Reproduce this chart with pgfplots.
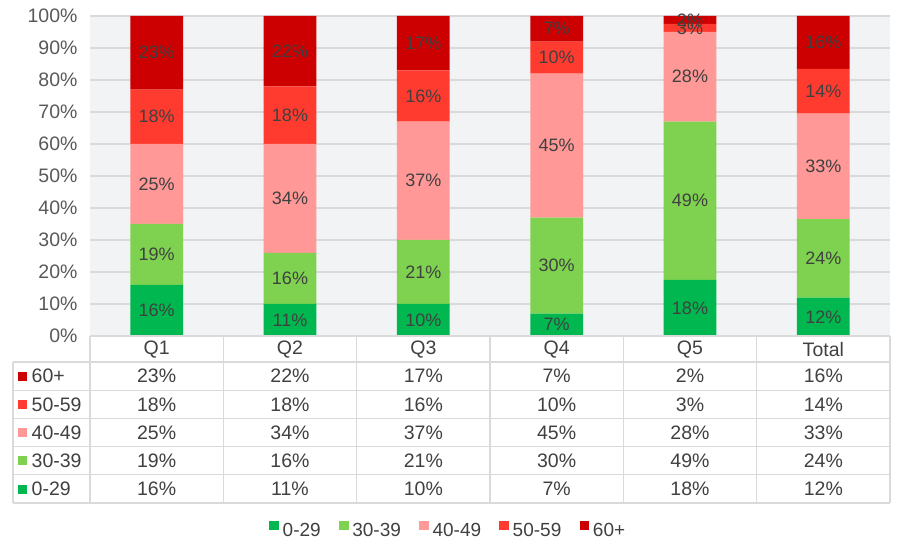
\documentclass[border=0pt]{standalone}
\usepackage{pgfplots}
\pgfplotsset{compat=1.18}
\usepackage{pgfplotstable}
\usepackage{fontspec}
\setmainfont{Liberation Sans}
\definecolor{cA}{HTML}{00B84F}
\definecolor{cB}{HTML}{7ED24F}
\definecolor{cC}{HTML}{FF9896}
\definecolor{cD}{HTML}{FF3B30}
\definecolor{cE}{HTML}{CC0000}
\definecolor{bg}{HTML}{F2F3F4}
\definecolor{gridc}{HTML}{DADADA}
\definecolor{txt}{HTML}{404040}
\definecolor{tickc}{HTML}{595959}

\pgfplotstableread{
x cat a b c d e la lb lc ld le
0 Q1 16 19 25 17 23 16 19 25 18 23
1 Q2 10 16 34 18 22 11 16 34 18 22
2 Q3 10 20 37 16 17 10 21 37 16 17
3 Q4 7 30 45 10 8 7 30 45 10 7
4 Q5 17.5 49.5 28 2.5 2.5 18 49 28 3 2
5 Total 12 24.5 33 14 16.5 12 24 33 14 16
}\data

\pgfplotsset{sqleg/.style={legend image code/.code={\fill[##1] (0pt,0pt) rectangle (9.5pt,9.5pt);}}}

\begin{document}
\begin{tikzpicture}
\path[use as bounding box] (-90pt,-217pt) rectangle (810pt,336pt);
\begin{axis}[
  at={(0pt,0pt)}, anchor=south west,
  scale only axis, width=800pt, height=320pt,
  ybar stacked, bar width=52.7pt,
  xmin=-0.5, xmax=5.5, ymin=0, ymax=100,
  clip=false,
  xtick=\empty,
  ytick={0,10,...,100},
  yticklabels={0\%,10\%,20\%,30\%,40\%,50\%,60\%,70\%,80\%,90\%,100\%},
  yticklabel style={font=\fontsize{19.5}{21}\selectfont, text=tickc, xshift=-9pt},
  major tick length=0pt,
  ymajorgrids, grid style={gridc, line width=1.3pt},
  axis line style={draw=none},
  axis background/.style={fill=bg},
  nodes near coords={\pgfplotspointmeta\%},
  nodes near coords align={center},
  every node near coord/.append style={anchor=center, font=\fontsize{18}{20}\selectfont, text=txt},
  legend columns=-1,
  legend style={draw=none, fill=none, at={(0.449,-0.606)}, anchor=center,
    font=\fontsize{19}{21}\selectfont, text=txt,
    nodes={inner xsep=3.8pt, inner ysep=1.5pt},
    /tikz/every even column/.append style={column sep=14.5pt}},
]
\addplot[fill=cA, draw=none, sqleg, point meta=explicit symbolic] table[x=x, y=a, meta=la] {\data};
\addplot[fill=cB, draw=none, sqleg, point meta=explicit symbolic] table[x=x, y=b, meta=lb] {\data};
\addplot[fill=cC, draw=none, sqleg, point meta=explicit symbolic] table[x=x, y=c, meta=lc] {\data};
\addplot[fill=cD, draw=none, sqleg, point meta=explicit symbolic] table[x=x, y=d, meta=ld] {\data};
\addplot[fill=cE, draw=none, sqleg, point meta=explicit symbolic] table[x=x, y=e, meta=le] {\data};
\legend{0-29,30-39,40-49,50-59,60+}
\end{axis}
% data table
\draw[gridc, line width=1.3pt] (0pt,0pt) -- (800pt,0pt);
\foreach \yy in {-26,-54.2,-82.4,-110.6,-138.8,-167}
  \draw[gridc, line width=1.3pt] (-77pt,\yy pt) -- (800pt,\yy pt);
\draw[gridc, line width=1.3pt] (-77pt,-26pt) -- (-77pt,-167pt);
\foreach \i in {0,...,6}
  \draw[gridc, line width=1.3pt] ({133.333pt*\i},0pt) -- ({133.333pt*\i},-167pt);
\foreach \i in {0,...,5}{
  \pgfplotstablegetelem{\i}{cat}\of\data
  \node[font=\fontsize{19.5}{21}\selectfont, text=txt] at ({66.667pt+133.333pt*\i},-13.3pt) {\pgfplotsretval};
}
\foreach \col/\row/\clr/\name in {le/0/cE/60+, ld/1/cD/50-59, lc/2/cC/40-49, lb/3/cB/30-39, la/4/cA/0-29}{
  \pgfmathsetmacro\yc{-40.1-28.2*\row}
  \fill[\clr] (-72pt,{(\yc-4.8)*1pt}) rectangle (-62.5pt,{(\yc+4.2)*1pt});
  \node[anchor=west, inner sep=0pt, font=\fontsize{19.5}{21}\selectfont, text=txt] at (-58.5pt,\yc pt) {\name};
  \foreach \i in {0,...,5}{
    \pgfplotstablegetelem{\i}{\col}\of\data
    \node[font=\fontsize{19.5}{21}\selectfont, text=txt] at ({66.667pt+133.333pt*\i},\yc pt) {\pgfplotsretval\%};
  }
}
\end{tikzpicture}
\end{document}
